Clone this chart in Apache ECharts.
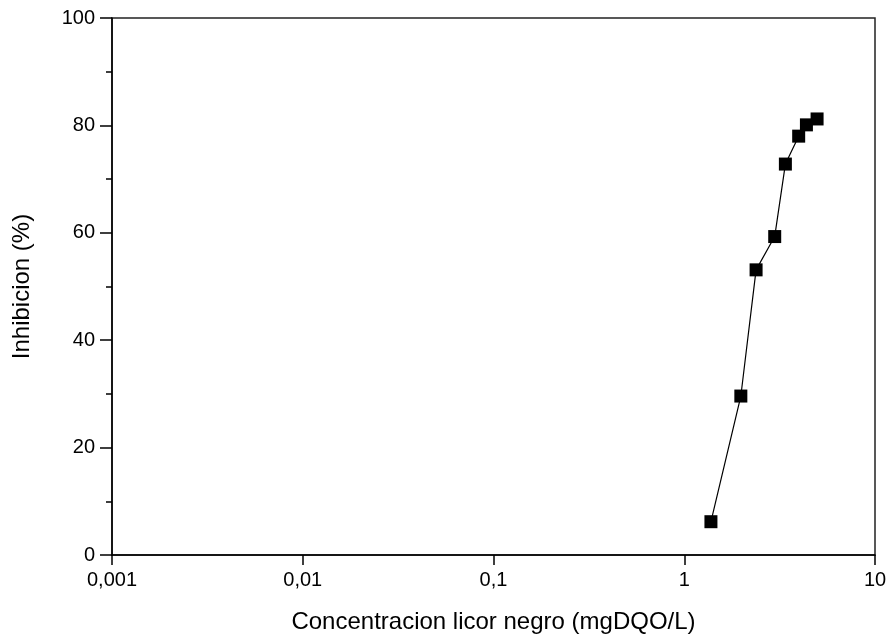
<!DOCTYPE html>
<html>
<head>
<meta charset="utf-8">
<script src="https://cdn.jsdelivr.net/npm/echarts@6/dist/echarts.min.js"></script>
<style>
  html, body { margin: 0; padding: 0; background: #fff; }
  #chart { width: 891px; height: 638px; }
</style>
</head>
<body>
<div id="chart"></div>
<script>
// concentration (mgDQO/L) and inhibition (%)
const concentration = [1.38, 1.98, 2.38, 2.98, 3.39, 3.98, 4.37, 4.97]
const inhibition = [6.2, 29.6, 53.1, 59.3, 72.8, 78.0, 80.1, 81.2]

const font = '"Liberation Sans", Arial, sans-serif'
const chart = echarts.init(document.getElementById('chart'))

chart.setOption({
  animation: false,
  backgroundColor: '#FFFFFF',
  grid: {
    left: 112,
    right: 16,
    top: 18,
    bottom: 83,
    outerBoundsMode: 'none',
    containLabel: false,
    show: true,
    borderColor: '#222',
    borderWidth: 1.5,
  },
  xAxis: {
    type: 'log',
    logBase: 10,
    min: 0.001,
    max: 10,
    name: 'Concentracion licor negro (mgDQO/L)',
    nameLocation: 'middle',
    nameGap: 55,
    nameTextStyle: { fontFamily: font, fontSize: 24, color: '#000' },
    axisLine: { onZero: false, lineStyle: { color: '#000', width: 1.5 } },
    axisTick: { inside: false, length: 10, lineStyle: { color: '#000', width: 1.5 } },
    minorTick: { show: false },
    splitLine: { show: false },
    axisLabel: {
      margin: 15,
      fontFamily: font,
      fontSize: 20,
      color: '#000',
      formatter: v => String(v).replace('.', ','),
    },
  },
  yAxis: {
    type: 'value',
    min: 0,
    max: 100,
    interval: 20,
    name: 'Inhibicion (%)',
    nameLocation: 'middle',
    nameGap: 78,
    nameTextStyle: { fontFamily: font, fontSize: 24, color: '#000' },
    axisLine: { show: true, lineStyle: { color: '#000', width: 1.5 } },
    axisTick: { show: true, length: 12, lineStyle: { color: '#000', width: 1.5 } },
    minorTick: { show: true, splitNumber: 2, length: 6, lineStyle: { color: '#000', width: 1.5 } },
    splitLine: { show: false },
    axisLabel: { margin: 17, fontFamily: font, fontSize: 20, color: '#000' },
  },
  series: [
    {
      type: 'line',
      data: concentration.map((c, i) => [c, inhibition[i]]),
      symbol: 'rect',
      symbolSize: 13,
      itemStyle: { color: '#000' },
      lineStyle: { color: '#000', width: 1.2 },
    },
  ],
})
</script>
</body>
</html>
